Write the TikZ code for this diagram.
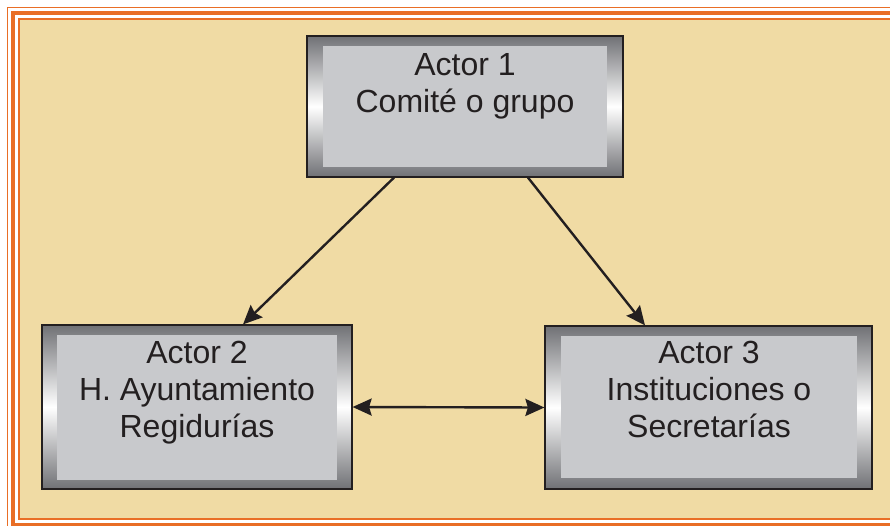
\documentclass[tikz,border=0pt]{standalone}
\usepackage{fontspec}
\setmainfont{Liberation Sans}
\usetikzlibrary{arrows.meta}
\definecolor{papyrus}{RGB}{240,219,164}
\definecolor{rim}{RGB}{233,110,38}
\definecolor{bevelgray}{RGB}{112,113,117}
\definecolor{facegray}{RGB}{200,201,204}
\definecolor{ink}{RGB}{35,31,32}

\begin{document}
\begin{tikzpicture}[x=1pt, y=-1pt]
        \tikzstyle{bevel} = [rectangle, draw=ink, line width=1.2pt, top color=bevelgray, bottom color=bevelgray, middle color=white]
        \tikzstyle{actor} = [rectangle, fill=facegray, inner sep=0pt, align=center, text=ink, font=\fontsize{32}{37}\selectfont]
        \tikzstyle{link} = [line width=2.4pt, draw=ink, -{Stealth[length=19pt, width=17pt, inset=2.5pt]}]

        \useasboundingbox (0,0) rectangle (890,525);
        \clip (0,0) rectangle (890,525);
        % paper and orange frame
        \fill[white] (0,0) rectangle (890,525);
        \fill[papyrus] (19,19) rectangle (900,519);
        \draw[rim, line width=1.5pt] (7.5,7.5) rectangle (912,531);
        \draw[rim, line width=4pt] (13,13) rectangle (906,525);
        \draw[rim, line width=1.5pt] (19,19) rectangle (900,519);

        \node(Frame1)[bevel, minimum width=316pt, minimum height=141pt] at (465,106.5) {};
        \node(Actor1)[actor, minimum width=284pt, minimum height=121pt, text height=66pt, text depth=55pt] at (465,106.5) {Actor 1\\Comité o grupo};

        \node(Frame2)[bevel, minimum width=310pt, minimum height=164pt] at (197,407) {};
        \node(Actor2)[actor, minimum width=280pt, minimum height=145pt, text height=102pt, text depth=43pt] at (197,407.5) {Actor 2\\H. Ayuntamiento\\Regidurías};

        \node(Frame3)[bevel, minimum width=327pt, minimum height=163pt] at (708.5,407.5) {};
        \node(Actor3)[actor, minimum width=296pt, minimum height=142pt, text height=101pt, text depth=41pt] at (709,407) {Actor 3\\Instituciones o\\Secretarías};

        \draw[link] ([xshift=-71pt]Frame1.south) -- ([xshift=46pt]Frame2.north);
        \draw[link] ([xshift=63pt]Frame1.south) -- ([xshift=-63.5pt]Frame3.north);
        \draw[link, {Stealth[length=19pt, width=17pt, inset=2.5pt]}-{Stealth[length=19pt, width=17pt, inset=2.5pt]}] (Frame2.east) -- (Frame3.west);

    \end{tikzpicture}
\end{document}
